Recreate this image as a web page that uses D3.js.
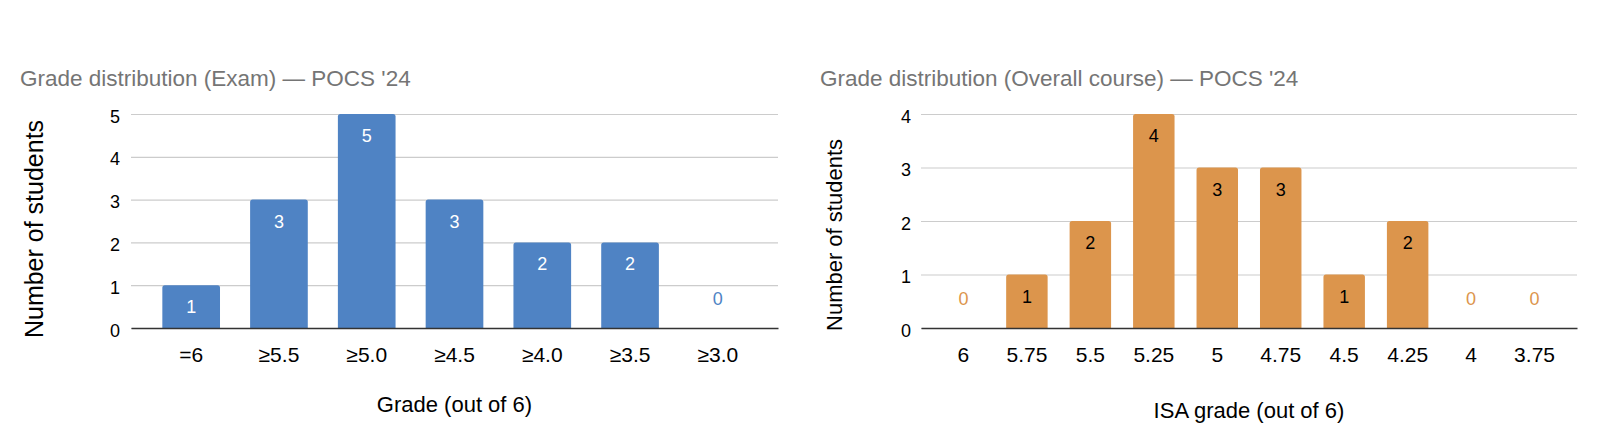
<!DOCTYPE html>
<html>
<head>
<meta charset="utf-8">
<script src="https://cdn.jsdelivr.net/npm/d3@7"></script>
<style>
  body { margin: 0; background: #fff; }
  svg { display: block; font-family: "Liberation Sans", Arial, sans-serif; }
</style>
</head>
<body>
<svg id="chart" width="1597" height="444"></svg>
<script>
// exam chart
const examGrades = ['=6', '≥5.5', '≥5.0', '≥4.5', '≥4.0', '≥3.5', '≥3.0'];
const examCounts = [1, 3, 5, 3, 2, 2, 0];
const examTicks = [0, 1, 2, 3, 4, 5];

// overall course chart
const isaGrades = ['6', '5.75', '5.5', '5.25', '5', '4.75', '4.5', '4.25', '4', '3.75'];
const isaCounts = [0, 1, 2, 4, 3, 3, 1, 2, 0, 0];
const isaTicks = [0, 1, 2, 3, 4];

const svg = d3.select('#chart');

const drawChart = (cfg) => {
    const g = svg.append('g');

    const x = d3.scaleBand()
        .domain(cfg.cats)
        .range([cfg.left, cfg.right])
        .paddingInner(cfg.padIn)
        .paddingOuter(cfg.padOut);

    const y = d3.scaleLinear()
        .domain([0, d3.max(cfg.ticks)])
        .range([cfg.bottom, cfg.top]);

    // title
    g.append('text')
        .attr('x', cfg.titleX)
        .attr('y', 86)
        .attr('font-size', '22.5px')
        .attr('fill', '#757575')
        .text(cfg.title);

    // gridlines + y labels
    const yAxis = g.append('g')
        .attr('transform', `translate(${cfg.left},0)`)
        .call(d3.axisLeft(y)
            .tickValues(cfg.ticks)
            .tickFormat(d3.format('d'))
            .tickSize(-(cfg.right - cfg.left))
            .tickPadding(cfg.yPad));
    yAxis.select('.domain').remove();
    yAxis.selectAll('line').attr('stroke', '#cccccc').attr('stroke-width', 1.2);
    yAxis.selectAll('text')
        .attr('font-size', '18px')
        .attr('fill', '#000')
        .attr('font-family', '"Liberation Sans", Arial, sans-serif')
        .attr('dy', '0.45em');

    // bars with rounded tops
    const r = 2.5;
    g.selectAll('.bar')
        .data(cfg.vals.map((v, i) => ({ cat: cfg.cats[i], v })).filter(d => d.v > 0))
        .enter()
        .append('path')
        .attr('fill', cfg.color)
        .attr('d', d => {
            const x0 = x(d.cat), x1 = x0 + x.bandwidth();
            const y0 = y(0), y1 = y(d.v);
            return `M${x0},${y0}V${y1 + r}Q${x0},${y1} ${x0 + r},${y1}H${x1 - r}Q${x1},${y1} ${x1},${y1 + r}V${y0}Z`;
        });

    // value labels
    g.selectAll('.lbl')
        .data(cfg.vals.map((v, i) => ({ cat: cfg.cats[i], v })))
        .enter()
        .append('text')
        .attr('x', d => x(d.cat) + x.bandwidth() / 2)
        .attr('y', d => d.v > 0 ? y(d.v) + 28 : y(0) - 23)
        .attr('text-anchor', 'middle')
        .attr('font-size', '18px')
        .attr('fill', d => d.v > 0 ? cfg.labelColor : cfg.color)
        .text(d => d.v);

    // x axis
    const xAxis = g.append('g')
        .attr('transform', `translate(0,${cfg.bottom})`)
        .call(d3.axisBottom(x).tickSize(0).tickSizeOuter(0).tickPadding(19));
    xAxis.select('.domain').attr('stroke', '#333333').attr('stroke-width', 1.5);
    xAxis.selectAll('text')
        .attr('font-size', '21px')
        .attr('fill', '#000')
        .attr('font-family', '"Liberation Sans", Arial, sans-serif');

    // axis titles
    g.append('text')
        .attr('x', (cfg.left + cfg.right) / 2)
        .attr('y', cfg.xTitleY)
        .attr('text-anchor', 'middle')
        .attr('font-size', '22px')
        .attr('fill', '#000')
        .text(cfg.xTitle);

    g.append('text')
        .attr('transform', `translate(${cfg.yTitleX},${cfg.yTitleY}) rotate(-90)`)
        .attr('text-anchor', 'middle')
        .attr('font-size', cfg.yTitleSize)
        .attr('fill', '#000')
        .text('Number of students');
};

drawChart({
    cats: examGrades, vals: examCounts, ticks: examTicks,
    left: 131, right: 778, top: 114, bottom: 328,
    padIn: 0.343, padOut: 0.357, yPad: 11,
    color: '#4f83c4', labelColor: '#ffffff',
    title: "Grade distribution (Exam) — POCS '24", titleX: 20,
    xTitle: 'Grade (out of 6)', xTitleY: 412,
    yTitleX: 43, yTitleY: 229, yTitleSize: '25px'
});

drawChart({
    cats: isaGrades, vals: isaCounts, ticks: isaTicks,
    left: 921, right: 1577, top: 114, bottom: 328,
    padIn: 0.3465, padOut: 0.342, yPad: 10,
    color: '#dc954c', labelColor: '#000000',
    title: "Grade distribution (Overall course) — POCS '24", titleX: 820,
    xTitle: 'ISA grade (out of 6)', xTitleY: 418,
    yTitleX: 842, yTitleY: 235, yTitleSize: '22px'
});
</script>
</body>
</html>
